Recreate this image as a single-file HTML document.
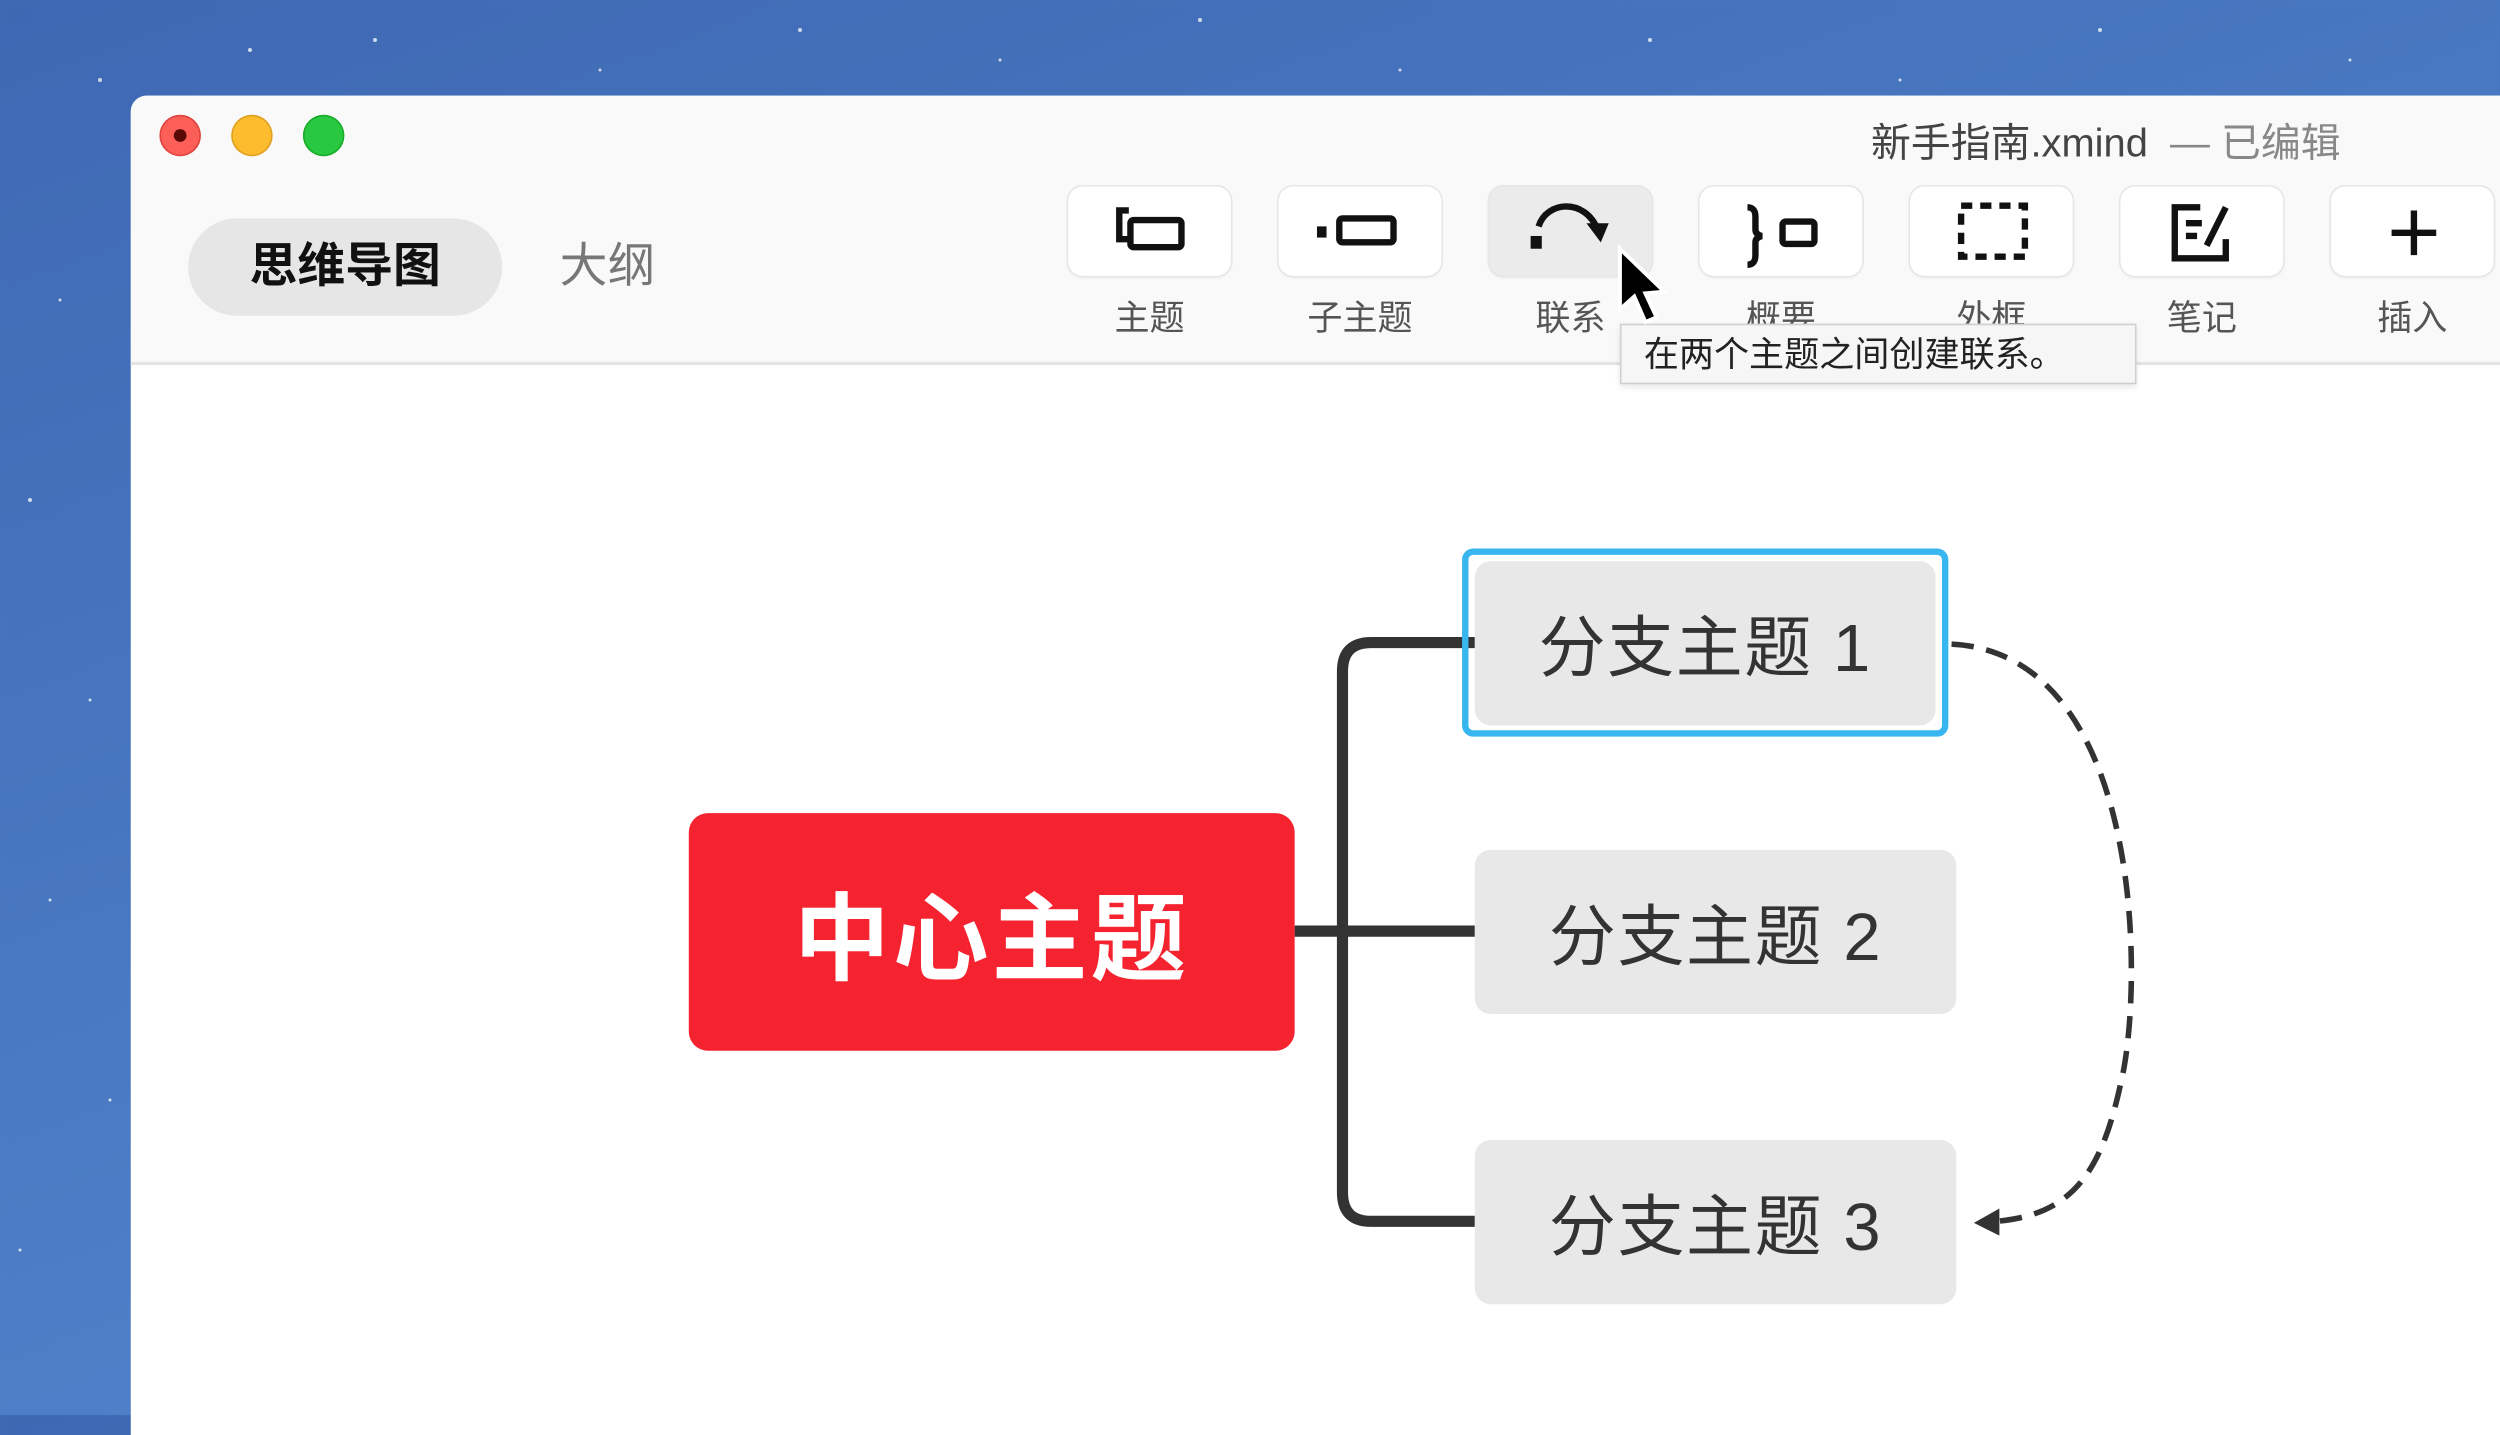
<!DOCTYPE html>
<html><head><meta charset="utf-8"><style>
html,body{margin:0;padding:0;width:2500px;height:1415px;overflow:hidden}
body{background:linear-gradient(160deg,#3f68b3 0%,#4a7bc4 50%,#5a8ad0 100%);font-family:"Liberation Sans","Noto Sans CJK SC",sans-serif}
#s{position:absolute;left:0;top:0;width:1568px;height:888px;transform:scale(1.5944);transform-origin:0 0}
.a{position:absolute}
.win{left:82px;top:60px;width:1500px;height:840px;background:#fff;border-radius:10px 0 0 0;overflow:hidden}
.bar{left:0;top:0;width:1500px;height:167px;background:#f9f9f9;border-bottom:2px solid #e4e4e4}
.dot{width:26px;height:26px;border-radius:50%;top:12px}
.btn{top:57px;width:102px;height:56px;border-radius:9px;background:#fff;box-shadow:0 0 0 1px #e6e6e6,0 1px 2px rgba(0,0,0,.08)}
.lbl{top:122px;width:102px;text-align:center;font-size:22px;color:#555}
.box{background:#e8e8e8;border-radius:10px;font-size:42px;color:#333;display:flex;align-items:center;justify-content:center;letter-spacing:1px}
</style></head><body>
<svg class="a" style="left:0;top:0" width="2500" height="1415">
<g fill="#fff" opacity=".75">
<circle cx="100" cy="80" r="2"/><circle cx="250" cy="50" r="2"/><circle cx="375" cy="40" r="2"/><circle cx="600" cy="70" r="1.5"/><circle cx="450" cy="120" r="1.5"/><circle cx="800" cy="30" r="2"/><circle cx="1000" cy="60" r="1.5"/><circle cx="1200" cy="20" r="2"/><circle cx="1400" cy="70" r="1.5"/><circle cx="1650" cy="40" r="2"/><circle cx="1900" cy="80" r="1.5"/><circle cx="2100" cy="30" r="2"/><circle cx="2350" cy="60" r="1.5"/><circle cx="60" cy="300" r="1.5"/><circle cx="30" cy="500" r="2"/><circle cx="90" cy="700" r="1.5"/><circle cx="50" cy="900" r="1.5"/><circle cx="110" cy="1100" r="1.5"/><circle cx="20" cy="1250" r="1.5"/><circle cx="180" cy="110" r="2"/><circle cx="240" cy="105" r="2"/><circle cx="660" cy="110" r="1.5"/>
</g></svg>
<div id="s">
<div class="a win">
 <div class="a bar">
  <div class="a dot" style="left:18px;background:#fc5f57;box-shadow:inset 0 0 0 1px #e0443e"><div style="width:8px;height:8px;border-radius:50%;background:#5a0a06;margin:9px"></div></div>
  <div class="a dot" style="left:63px;background:#fdbc2e;box-shadow:inset 0 0 0 1px #dea123"></div>
  <div class="a dot" style="left:108px;background:#28c840;box-shadow:inset 0 0 0 1px #1aab29"></div>
  <div class="a" style="right:114px;top:10px;font-size:25px;color:#444;white-space:nowrap">新手指南.xmind <span style="color:#888">&nbsp;— 已编辑</span></div>
  <div class="a" style="left:36px;top:77px;width:197px;height:61px;border-radius:31px;background:#e6e6e6;text-align:center;line-height:61px;font-size:30px;font-weight:bold;color:#111">思维导图</div>
  <div class="a" style="left:269px;top:77px;line-height:61px;font-size:30px;color:#777">大纲</div>
  <div class="a btn" style="left:588px"></div><div class="a btn" style="left:720px"></div><div class="a btn" style="left:852px;background:#ebebeb"></div><div class="a btn" style="left:984px"></div><div class="a btn" style="left:1116px"></div><div class="a btn" style="left:1248px"></div><div class="a btn" style="left:1380px"></div>
  <svg class="a" style="left:0;top:0" width="1500" height="167" fill="none" stroke="#111" stroke-width="4">
   <path d="M626,72 h-6 v18 h6"/><rect x="627" y="78" width="32" height="17" rx="2"/>
   <rect x="744" y="82" width="6" height="7" fill="#111" stroke="none"/><rect x="758" y="77" width="34" height="15" rx="2"/>
   <rect x="878" y="88" width="7" height="8" fill="#111" stroke="none"/><path d="M883,82 C888,66 912,64 920,84"/><path d="M913,80 l9,12 l5,-12 z" fill="#111" stroke="none"/>
   <path d="M1014,70 q5,0 5,6 v8 q0,3 4,4 q-4,1 -4,4 v8 q0,6 -5,6"/><rect x="1036" y="79" width="20" height="14" rx="2"/>
   <rect x="1148" y="69" width="40" height="32" stroke-dasharray="7 5"/>
   <path d="M1298,70 h-16 v32 h32 v-12"/><path d="M1289,80 h10 M1289,88 h7 M1302,94 l12,-24"/>
   <path d="M1432,72 v28 M1418,86 h28" stroke-width="4"/>
  </svg>
  <div class="a lbl" style="left:588px">主题</div><div class="a lbl" style="left:720px">子主题</div><div class="a lbl" style="left:852px">联系</div><div class="a lbl" style="left:984px">概要</div><div class="a lbl" style="left:1116px">外框</div><div class="a lbl" style="left:1248px">笔记</div><div class="a lbl" style="left:1380px">插入</div>
 </div>
</div>
<div class="a" style="left:1016px;top:203px;width:324px;height:38px;background:#f6f6f6;border:1px solid #d0d0d0;box-shadow:0 2px 4px rgba(0,0,0,.1);font-size:22px;color:#222;line-height:38px;padding-left:14px;box-sizing:border-box">在两个主题之间创建联系。</div>
<svg class="a" style="left:1010px;top:150px" width="50" height="70"><path d="M6,6 L6,44 L15,36 L22,52 L29,49 L22,34 L34,33 Z" fill="#000" stroke="#fff" stroke-width="2.5"/></svg>
<svg class="a" style="left:0;top:0" width="1568" height="888" fill="none">
 <path d="M812,584 H925 M925,403 H860 Q842,403 842,421 V748 Q842,766 860,766 H925" stroke="#333" stroke-width="7"/>
 <path d="M1224,404 C1345,410 1345,620 1330,680 C1318,735 1300,762 1252,766" stroke="#333" stroke-width="3.5" stroke-dasharray="14 8"/>
 <path d="M1238,767 L1254,758 L1254,775 Z" fill="#333"/>
</svg>
<div class="a" style="left:432px;top:510px;width:380px;height:149px;background:#f52230;border-radius:12px;color:#fff;font-size:60px;font-weight:bold;display:flex;align-items:center;justify-content:center;letter-spacing:2px">中心主题</div>
<div class="a" style="left:917px;top:344px;width:305px;height:118px;border:4px solid #38b6f0;border-radius:7px;box-sizing:border-box"></div>
<div class="a box" style="left:925px;top:352px;width:289px;height:103px">分支主题 1</div>
<div class="a box" style="left:925px;top:533px;width:302px;height:103px">分支主题 2</div>
<div class="a box" style="left:925px;top:715px;width:302px;height:103px">分支主题 3</div>
</div>
</body></html>
